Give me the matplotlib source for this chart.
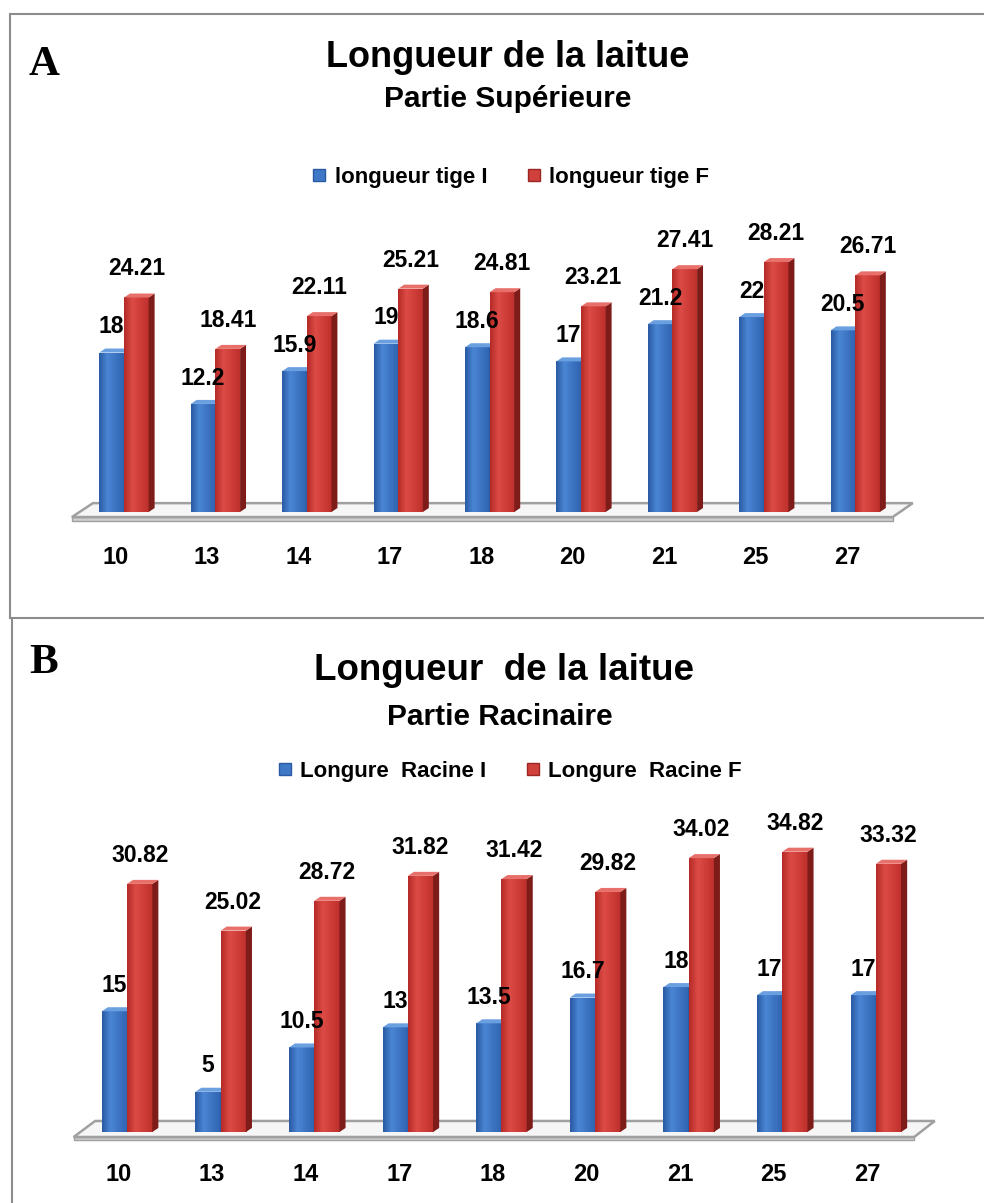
import numpy as np
import matplotlib
matplotlib.use('Agg')
import matplotlib.pyplot as plt
from matplotlib.colors import LinearSegmentedColormap
from matplotlib.patches import Polygon
from matplotlib.lines import Line2D

plt.rcParams['font.family'] = ['Liberation Sans', 'DejaVu Sans']

# data
days = ['10', '13', '14', '17', '18', '20', '21', '25', '27']

tigeI = [18, 12.2, 15.9, 19, 18.6, 17, 21.2, 22, 20.5]
tigeF = [24.21, 18.41, 22.11, 25.21, 24.81, 23.21, 27.41, 28.21, 26.71]
tigeNames = ['longueur tige I', 'longueur tige F']

racineI = [15, 5, 10.5, 13, 13.5, 16.7, 18, 17, 17]
racineF = [30.82, 25.02, 28.72, 31.82, 31.42, 29.82, 34.02, 34.82, 33.32]
racineNames = ['Longure  Racine I', 'Longure  Racine F']

W, H = 984, 1203
fig = plt.figure(figsize=(W/100, H/100), dpi=100)

blueFront = LinearSegmentedColormap.from_list('bf', ['#2a5aa3', '#4a86d4', '#3d74c2', '#2f63b0'])
redFront = LinearSegmentedColormap.from_list('rf', ['#b52a27', '#dc4b45', '#cf3d38', '#bd302c'])
blueSide, blueTop = '#24508f', '#6a9fe0'
redSide, redTop = '#7e1c1a', '#e8706a'
grad = np.linspace(0, 1, 64).reshape(1, -1)


def px_axes(left, right, top, bottom):
    return fig.add_axes([left/W, 1-bottom/H, (right-left)/W, (bottom-top)/H])


def bar3d(ax, x, h, w, cmap, side, top, dx, dy, z):
    front = ax.bar(x, h, width=w, align='edge', color='none', linewidth=0, zorder=z)[0]
    im = ax.imshow(grad, cmap=cmap, extent=(x, x+w, 0, h), aspect='auto',
                   interpolation='bilinear', zorder=z)
    im.set_clip_path(front)
    ax.add_patch(Polygon([(x+w, 0), (x+w+dx, dy), (x+w+dx, h+dy), (x+w, h)],
                         closed=True, fc=side, ec='none', zorder=z))
    ax.add_patch(Polygon([(x, h), (x+w, h), (x+w+dx, h+dy), (x+dx, h+dy)],
                         closed=True, fc=top, ec='none', zorder=z))


def panel(ax, vI, vF, ymax, dy, back, front):
    n = len(days)
    x = np.arange(n)
    w, dx = 0.27, 0.065
    # floor slab
    ax.add_patch(Polygon([(-0.57, front), (n-1+0.41, front), (n-1+0.41, front-0.4), (-0.57, front-0.4)],
                         closed=True, fc='#cfcfcf', ec='#a0a0a0', lw=1.0, zorder=1))
    ax.add_patch(Polygon([(-0.34, back), (n-1+0.63, back), (n-1+0.41, front), (-0.57, front)],
                         closed=True, fc='#f6f6f6', ec='#a0a0a0', lw=1.8, zorder=1))
    for i in x:
        bar3d(ax, i - w, vI[i], w, blueFront, blueSide, blueTop, dx, dy, 3)
        bar3d(ax, i, vF[i], w, redFront, redSide, redTop, dx, dy, 4)
        ax.annotate('{:g}'.format(vI[i]), (i - w/2, vI[i] + dy), xytext=(0, 11), textcoords='offset points',
                    ha='center', va='baseline', fontsize=16.5, fontweight='bold', zorder=6)
        ax.annotate('{:g}'.format(vF[i]), (i + w/2, vF[i] + dy), xytext=(0, 13), textcoords='offset points',
                    ha='center', va='baseline', fontsize=16.5, fontweight='bold', zorder=6)
    ax.set_xlim(-1, 9)
    ax.set_ylim(-3, ymax)
    ax.set_xticks(x - 0.09)
    ax.set_xticklabels(days, fontsize=17, fontweight='bold')
    ax.tick_params(axis='x', length=0, pad=5)
    ax.set_yticks([])
    for s in ax.spines.values():
        s.set_visible(False)


def legend(names, cx, cy):
    hs = [Line2D([], [], marker='s', ls='none', markersize=9, mfc='#3f78c6', mec='#2a5aa3'),
          Line2D([], [], marker='s', ls='none', markersize=9, mfc='#d0413c', mec='#9a2624')]
    fig.legend(hs, names, loc='center', bbox_to_anchor=(cx/W, 1-cy/H), ncol=2, frameon=False,
               prop=dict(weight='bold', size=16), handlelength=0.6, handletextpad=0.4,
               columnspacing=1.8)


# panel A
axA = px_axes(124-91.4, 124+9*91.4, 512-36*8.86, 512+3*8.86)
panel(axA, tigeI, tigeF, 36, 0.45, 1.0, -0.57)
fig.text(508/W, 1-67/H, 'Longueur de la laitue', ha='center', va='baseline', fontsize=26, fontweight='bold')
fig.text(508/W, 1-107/H, 'Partie Supérieure', ha='center', va='baseline', fontsize=21.5, fontweight='bold')
legend(tigeNames, 511, 177)
fig.text(29/W, 1-75/H, 'A', family='Liberation Serif', fontweight='bold', fontsize=31, va='baseline')

# panel B
axB = px_axes(127-93.6, 127+9*93.6, 1132-40*8.05, 1132+3*8.05)
panel(axB, racineI, racineF, 40, 0.5, 1.37, -0.62)
fig.text(504/W, 1-680/H, 'Longueur  de la laitue', ha='center', va='baseline', fontsize=26.5, fontweight='bold')
fig.text(500/W, 1-725/H, 'Partie Racinaire', ha='center', va='baseline', fontsize=21.5, fontweight='bold')
legend(racineNames, 510, 771)
fig.text(29/W, 1-673/H, 'B', family='Liberation Serif', fontweight='bold', fontsize=31, va='baseline')

# frames around the two panels
gray = '#8c8c8c'
for xs, ys in [([9.5, 984], [14, 14]), ([9.5, 9.5], [14, 618]), ([9.5, 984], [618, 618]),
               ([12, 12], [618, 1203])]:
    fig.add_artist(Line2D([v/W for v in xs], [1-v/H for v in ys], color=gray, lw=1.5))

fig.savefig('out.png', dpi=100)
